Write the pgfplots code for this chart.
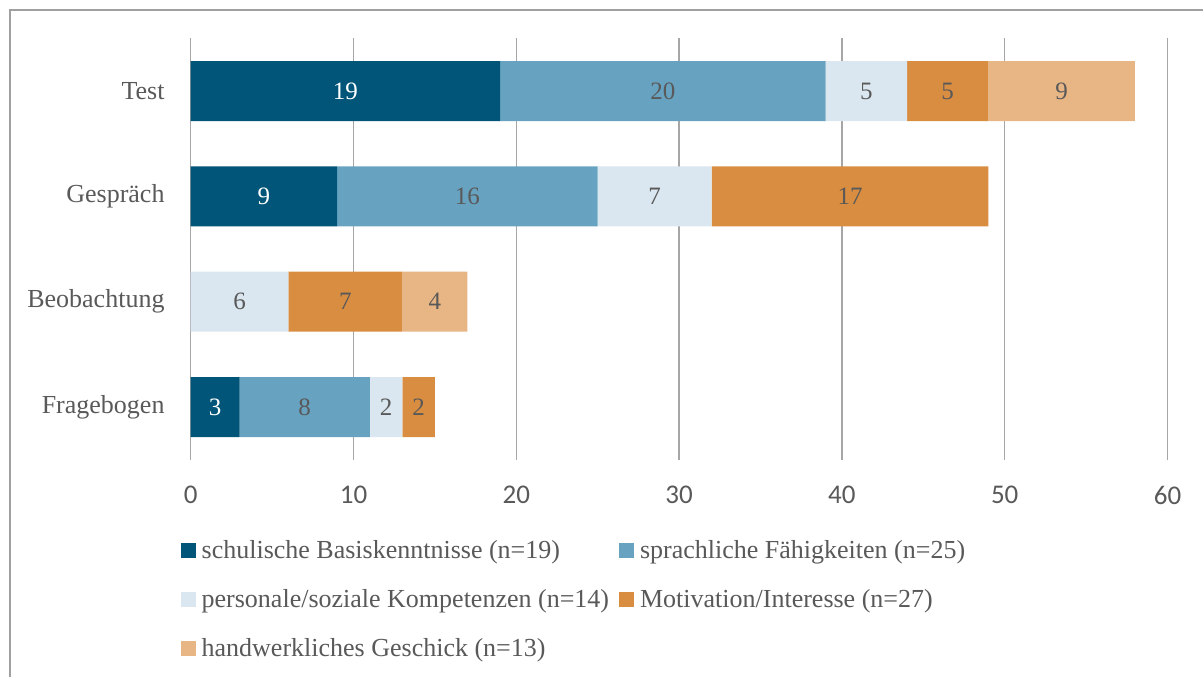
\documentclass[border=0pt]{standalone}
\usepackage{pgfplots}
\pgfplotsset{compat=1.18}
\usepackage{fontspec}
\setmainfont{Liberation Serif}
\newfontfamily\carlito{Carlito}
\definecolor{c1}{HTML}{005578}
\definecolor{c2}{HTML}{67A3C1}
\definecolor{c3}{HTML}{DAE7F0}
\definecolor{c4}{HTML}{D98D41}
\definecolor{c5}{HTML}{E8B585}
\definecolor{txt}{HTML}{595959}
\definecolor{grd}{HTML}{A6A6A6}
\definecolor{frm}{HTML}{A0A0A0}
\pgfplotsset{
  commonaxis/.style={
    at={(190.7pt,-459.67pt)}, anchor=south west,
    x=16.28pt, y=105.33pt,
    xmin=0, xmax=60, ymin=-0.5, ymax=3.5,
  }
}
\begin{document}
\begin{tikzpicture}
\useasboundingbox (0,0) rectangle (1203pt,-677pt);
\draw[frm, line width=2pt] (10pt,-700pt) -- (10pt,-10pt) -- (1220pt,-10pt);
\begin{axis}[
  commonaxis,
  xbar stacked, bar width=60pt,
  axis line style={draw=none},
  major tick length=0pt,
  xtick={0,10,...,60},
  ytick={0,1,2,3},
  yticklabels={Fragebogen,Beobachtung,Gespräch,Test},
  xmajorgrids, grid style={grd, line width=1.5pt},
  /pgf/number format/assume math mode=true,
  xticklabel style={font=\carlito\fontsize{27}{27}\selectfont, text=txt, inner sep=0pt, anchor=north, yshift=-26pt},
  yticklabel style={font=\fontsize{26}{26}\selectfont, text=txt, inner sep=0pt, anchor=east, xshift=-26pt},
  legend columns=2,
  legend cell align=left,
  legend style={at={(-0.01025,-0.1934)}, anchor=north west, draw=none,
     inner sep=0pt, outer sep=0pt,
     font=\fontsize{26}{26}\selectfont, text=txt,
     nodes={inner sep=0pt, text height=17pt, text depth=6pt, anchor=west},
     row sep=26pt,
     /tikz/every odd column/.append style={column sep=6pt},
     /tikz/every even column/.append style={column sep=10pt}},
  legend image code/.code={\fill[#1] (0pt,-5.5pt) rectangle (15pt,9.5pt);},
]
\addplot[fill=c1, draw=none] coordinates {(3,0) (0,1) (9,2) (19,3)};
\addplot[fill=c2, draw=none] coordinates {(8,0) (0,1) (16,2) (20,3)};
\addplot[fill=c3, draw=none] coordinates {(2,0) (6,1) (7,2) (5,3)};
\addplot[fill=c4, draw=none] coordinates {(2,0) (7,1) (17,2) (5,3)};
\addplot[fill=c5, draw=none] coordinates {(0,0) (4,1) (0,2) (9,3)};
\legend{schulische Basiskenntnisse (n=19), sprachliche Fähigkeiten (n=25), personale/soziale Kompetenzen (n=14), Motivation/Interesse (n=27), handwerkliches Geschick (n=13)}
\end{axis}
\begin{axis}[
  commonaxis, hide axis,
  nodes near coords={\pgfplotspointmeta},
  point meta=explicit symbolic,
  every node near coord/.append style={anchor=center, inner sep=0pt,
     font=\fontsize{25}{25}\selectfont},
]
% labels at segment midpoints (white on dark segment)
\addplot[only marks, mark=none, every node near coord/.append style={text=white}]
  coordinates {(1.5,0) [3] (4.5,2) [9] (9.5,3) [19]};
\addplot[only marks, mark=none, every node near coord/.append style={text=txt}]
  coordinates {(7,0) [8] (12,0) [2] (14,0) [2]
               (3,1) [6] (9.5,1) [7] (15,1) [4]
               (17,2) [16] (28.5,2) [7] (40.5,2) [17]
               (29,3) [20] (41.5,3) [5] (46.5,3) [5] (53.5,3) [9]};
\end{axis}
\end{tikzpicture}
\end{document}
